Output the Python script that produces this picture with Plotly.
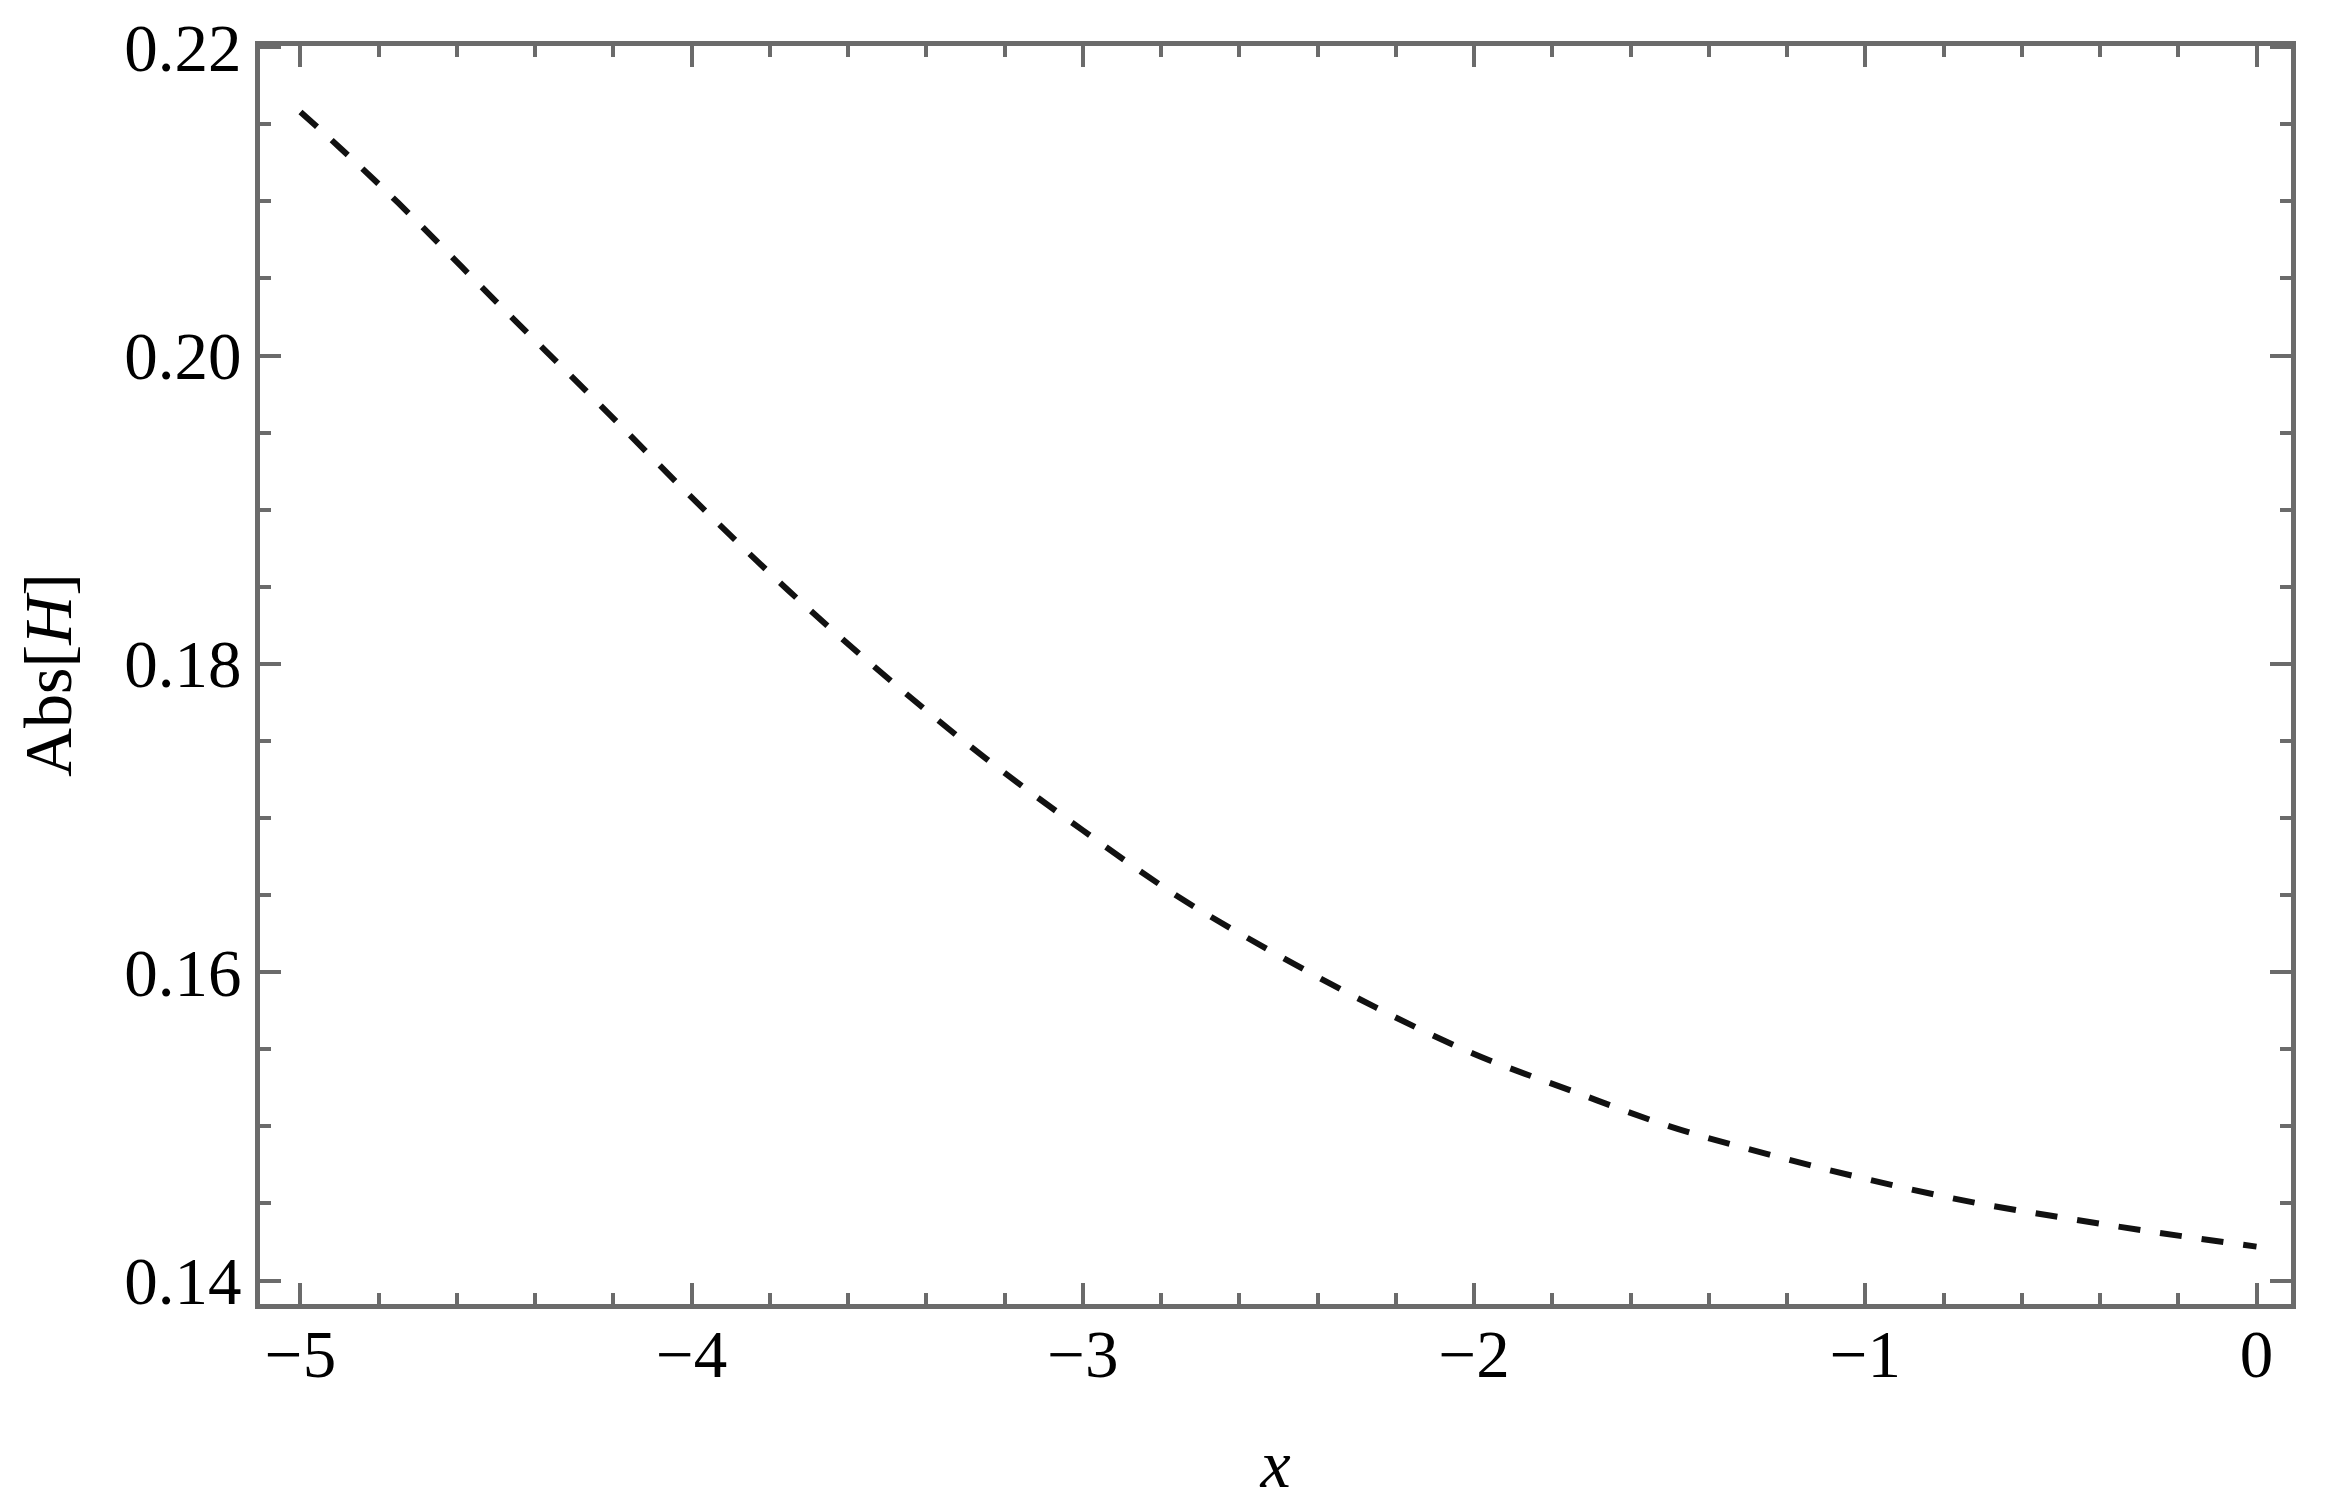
import plotly.graph_objects as go

# |H|
x_vals = [-5.0, -4.9, -4.75, -4.5, -4.25, -4.0, -3.75, -3.5, -3.25, -3.0, -2.75,
          -2.5, -2.25, -2.0, -1.75, -1.5, -1.25, -1.0, -0.75, -0.5, -0.25, 0.0]
abs_h = [0.2158, 0.2135, 0.2099, 0.2035, 0.1972, 0.1908, 0.1847, 0.1791, 0.1739,
         0.1692, 0.1648, 0.1611, 0.1577, 0.1547, 0.1523, 0.1500, 0.1482, 0.1466,
         0.1452, 0.1441, 0.1431, 0.1422]

x_ticks = [-5, -4, -3, -2, -1, 0]
x_tick_text = ["\u22125", "\u22124", "\u22123", "\u22122", "\u22121", "0"]
y_ticks = [0.14, 0.16, 0.18, 0.20, 0.22]
y_tick_text = ["0.14", "0.16", "0.18", "0.20", "0.22"]

frame = "#6b6b6b"
font = "Liberation Serif"

fig = go.Figure()
fig.add_trace(go.Scatter(
    x=x_vals, y=abs_h, mode="lines",
    line=dict(color="#111111", width=6, dash="22px,20px", shape="spline"),
    showlegend=False,
))

axis_common = dict(
    showline=True, linecolor=frame, linewidth=5, mirror="allticks",
    ticks="inside", tickcolor=frame, tickwidth=4, ticklen=21,
    showgrid=False, zeroline=False, automargin=False,
    ticklabeloverflow="allow",
    tickfont=dict(family=font, size=67, color="black"),
    title_font=dict(family=font, size=68, color="black"),
)

fig.update_xaxes(
    **axis_common,
    range=[-5.1035, 0.0882],
    tickvals=x_ticks, ticktext=x_tick_text,
    ticklabelstandoff=-12,
    minor=dict(dtick=0.2, tick0=0, ticklen=11, tickwidth=4, tickcolor=frame, ticks="inside"),
    title=dict(text="<i>x</i>", standoff=50),
)
fig.update_yaxes(
    **axis_common,
    range=[0.13848, 0.22008],
    tickvals=y_ticks, ticktext=y_tick_text,
    ticklabelstandoff=0,
    minor=dict(dtick=0.005, tick0=0, ticklen=11, tickwidth=4, tickcolor=frame, ticks="inside"),
    title=dict(text="Abs[<i>H</i>]", standoff=32),
)

fig.update_layout(
    width=2330, height=1509,
    margin=dict(l=252, r=47, t=38, b=213),
    paper_bgcolor="white", plot_bgcolor="white",
)

fig.write_html("out.html")
